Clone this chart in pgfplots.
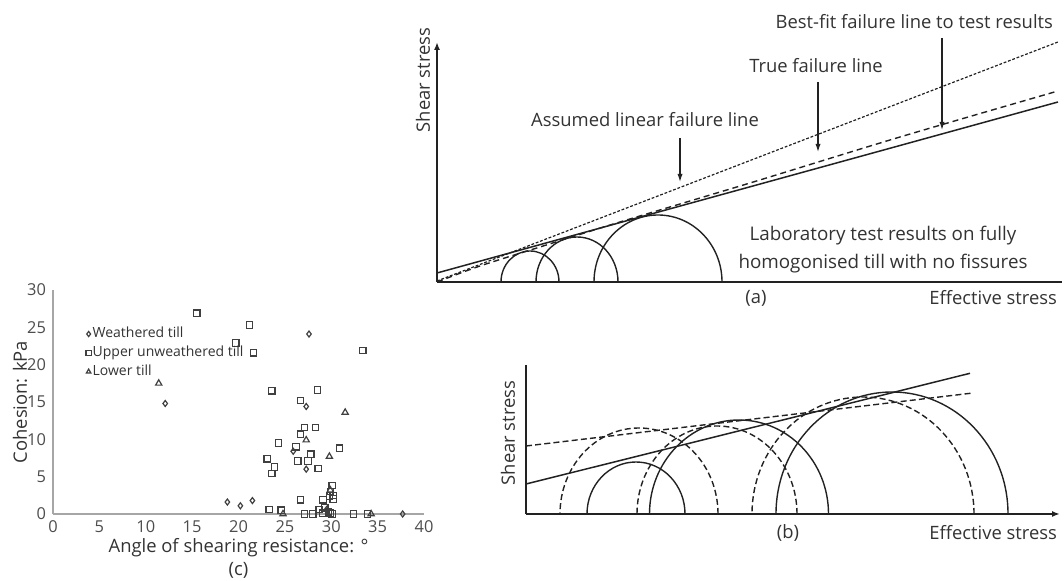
\documentclass[border=0pt]{standalone}
\usepackage{pgfplots}
\pgfplotsset{compat=1.18}
\usepackage{fontspec}
\setmainfont{Open Sans}
\usetikzlibrary{arrows.meta}
\definecolor{txt}{HTML}{333333}
\definecolor{tk}{HTML}{4D4D4D}
\definecolor{ln}{HTML}{222222}
\definecolor{axg}{HTML}{A6A6A6}
\definecolor{mk}{HTML}{404040}
% Mohr semicircle: [style] {centre} {x radius} {y radius}, in axis units (1 unit = 0.5pt)
\newcommand{\mohr}[4][]{%
  \draw[ln, line width=0.7pt, #1] (axis cs:#2,0) ++(#3*0.5pt,0) arc[start angle=0, end angle=180, x radius=#3*0.5pt, y radius=#4*0.5pt];}
\begin{document}
\begin{tikzpicture}[font=\fontsize{9.2}{11}\selectfont, text=txt]
\path[use as bounding box] (0,0) rectangle (532pt,290.5pt);

% ---------------- panel (a) ----------------
\begin{axis}[at={(218.5pt,149.5pt)}, anchor=south west, scale only axis,
  width=312.5pt, height=120pt, xmin=0, xmax=625, ymin=0, ymax=240,
  axis lines=left, ticks=none, clip=false,
  axis line style={ln, line width=0.8pt},
  x axis line style={-}, y axis line style={-{Latex[length=4pt,width=3pt]}}]
\mohr{93}{29}{31}
\mohr{140}{41}{45}
\mohr{221}{64}{67}
% best-fit (solid)
\addplot[ln, line width=0.75pt] coordinates {(0,9) (621,180)};
% true failure line (dashed, curved)
\addplot[ln, line width=0.7pt, dash pattern=on 3pt off 2pt, smooth] coordinates {(0,0) (43,16) (103,35) (183,60) (313,99) (463,145) (621,191)};
% assumed linear failure line (fine dashes)
\addplot[ln, line width=0.6pt, dash pattern=on 1.4pt off 0.9pt] coordinates {(0,1) (621,240)};
\draw[ln, line width=0.6pt, -{Latex[length=4pt,width=2.6pt]}] (axis cs:243,144) -- (axis cs:243,100);
\draw[ln, line width=0.6pt, -{Latex[length=4pt,width=2.6pt]}] (axis cs:381,200) -- (axis cs:381,130);
\draw[ln, line width=0.6pt, -{Latex[length=4pt,width=2.6pt]}] (axis cs:505,244) -- (axis cs:505,152);
\node[anchor=east] at (axis cs:623,260) {Best-fit failure line to test results};
\node at (axis cs:379,216) {True failure line};
\node at (axis cs:208,162) {Assumed linear failure line};
\node[align=center, font=\fontsize{9.4}{14}\selectfont] at (axis cs:446,32) {Laboratory test results on fully\\homogonised till with no fissures};
\node[rotate=90] at (axis cs:-14,202) {Shear stress};
\node at (axis cs:319,-16) {(a)};
\node[anchor=east] at (axis cs:627,-16) {Effective stress};
\end{axis}

% ---------------- panel (b) ----------------
\begin{axis}[at={(263pt,33.5pt)}, anchor=south west, scale only axis,
  width=267pt, height=74.5pt, xmin=0, xmax=534, ymin=0, ymax=149,
  axis lines=left, ticks=none, clip=false,
  axis line style={ln, line width=0.8pt},
  x axis line style={-{Latex[length=4pt,width=3pt]}}, y axis line style={-}]
\mohr{110}{49}{52}
\mohr{213}{89.5}{94}
\mohr{366}{116}{122}
\mohr[dash pattern=on 3pt off 1.6pt]{113}{79}{86}
\mohr[dash pattern=on 3pt off 1.6pt]{191}{80}{88}
\mohr[dash pattern=on 3pt off 1.6pt]{337}{111}{117}
\addplot[ln, line width=0.75pt] coordinates {(0,30) (444,140.7)};
\addplot[ln, line width=0.7pt, dash pattern=on 3pt off 1.6pt] coordinates {(0,68) (447,121)};
\node[rotate=90] at (axis cs:-18,81) {Shear stress};
\node at (axis cs:262,-19) {(b)};
\node[anchor=east] at (axis cs:538,-19) {Effective stress};
\end{axis}

% ---------------- panel (c) ----------------
\begin{axis}[at={(26.5pt,33.5pt)}, anchor=south west, scale only axis,
  width=185.5pt, height=112pt, xmin=0, xmax=40, ymin=0, ymax=30,
  axis lines=left, clip=false,
  axis line style={axg, line width=0.8pt, -},
  xtick={0,5,...,40}, ytick={0,5,...,30}, major tick length=0pt,
  /pgf/number format/assume math mode=true,
  tick label style={font=\fontsize{8.2}{9}\selectfont, text=tk},
  xlabel={Angle of shearing resistance: °},
  xlabel style={at={(axis description cs:0.5,-0.152)}, anchor=center, font=\fontsize{9.2}{11}\selectfont},
  ylabel={Cohesion: kPa},
  ylabel style={at={(axis description cs:-0.089,0.5)}, anchor=center, font=\fontsize{9.2}{11}\selectfont},
  legend style={at={(0.088,0.842)}, anchor=north west, draw=none, fill=none,
    font=\fontsize{7}{8}\selectfont, text=txt, row sep=1.2pt, inner sep=0pt, nodes={inner sep=0.7pt}},
  legend cell align=left,
  legend image code/.code={\draw[#1, mark size=1.3pt] plot coordinates {(0.06cm,0cm)};}]
\addplot[only marks, mark=diamond, mark size=1.5pt, mk, mark options={line width=0.6pt}] coordinates {
(27.6,24.1) (12.1,14.8) (27.3,14.4) (25.9,8.4) (27.3,6.0) (18.8,1.6) (20.2,1.1) (21.5,1.8) (29.5,0.6) (37.7,0)};
\addlegendentry{Weathered till}
\addplot[only marks, mark=square, mark size=1.6pt, mk, mark options={line width=0.6pt}] coordinates {
(15.5,26.9) (21.2,25.3) (19.7,22.9) (21.6,21.6) (33.4,21.9)
(23.6,16.5) (28.5,16.6) (26.7,15.2) (27.1,11.6) (28.3,11.6) (26.7,10.7) (24.3,9.5) (26.2,9.0) (30.9,8.8) (27.8,8.0)
(23.1,7.4) (26.4,7.1) (27.5,7.1) (23.9,6.3) (28.6,6.1) (23.6,5.4)
(30.1,3.8) (29.9,3.0) (30.2,2.5) (29.8,2.4) (30.2,2.0) (29.1,1.9) (26.7,1.9) (23.3,0.6) (24.6,0.5) (28.7,0.6) (29.3,0.8) (29.7,0.3)
(27.1,0) (28.0,0) (29.1,0.1) (29.9,0.1) (32.4,0) (33.9,0) (30.1,0)};
\addlegendentry{Upper unweathered till}
\addplot[only marks, mark=triangle, mark size=1.8pt, mk, mark options={line width=0.6pt}] coordinates {
(11.4,17.5) (31.5,13.6) (27.3,9.9) (29.8,7.7) (29.9,3.2) (24.8,0) (34.3,0)};
\addlegendentry{Lower till}
\node[font=\fontsize{9.2}{11}\selectfont] at (axis description cs:0.5,-0.25) {(c)};
\end{axis}
\end{tikzpicture}
\end{document}
